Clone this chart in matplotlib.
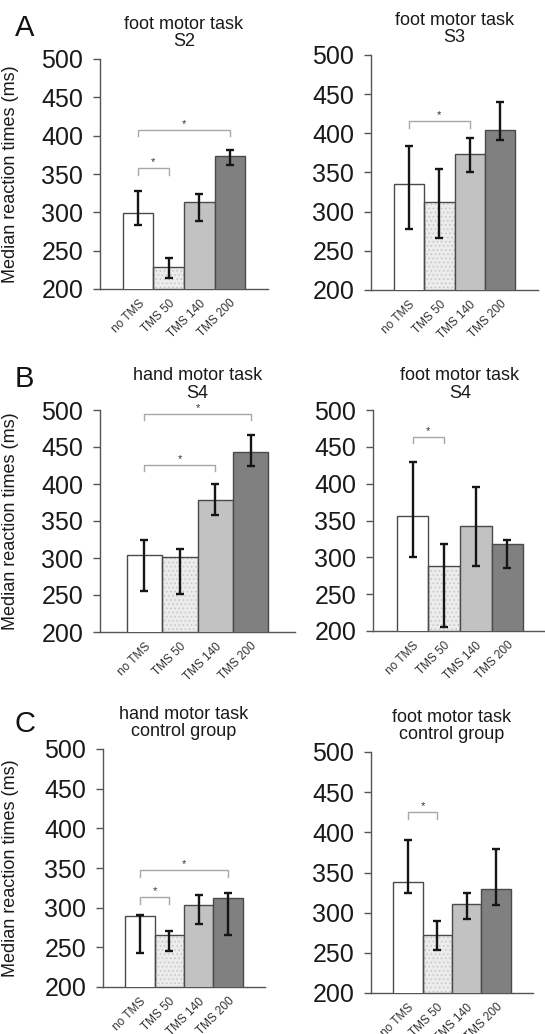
import matplotlib
matplotlib.use('Agg')
import matplotlib.pyplot as plt
import numpy as np

plt.rcParams['font.family'] = ['Liberation Sans', 'DejaVu Sans']
plt.rcParams['hatch.linewidth'] = 0.6

# data (median RT in ms, error bar lower / upper ends)
categories = ['no TMS', 'TMS 50', 'TMS 140', 'TMS 200']

a_s2_med = [299, 229, 314, 373]
a_s2_lo = [283, 214, 289, 362]
a_s2_hi = [328, 241, 324, 381]

a_s3_med = [335, 312, 374, 404]
a_s3_lo = [278, 267, 350, 391]
a_s3_hi = [384, 355, 394, 440]

b_hand_med = [304, 302, 378, 443]
b_hand_lo = [255, 252, 358, 424]
b_hand_hi = [324, 312, 400, 466]

b_foot_med = [356, 288, 342, 318]
b_foot_lo = [300, 205, 288, 286]
b_foot_hi = [429, 318, 396, 324]

c_hand_med = [289, 265, 303, 312]
c_hand_lo = [243, 246, 279, 265]
c_hand_hi = [291, 271, 316, 319]

c_foot_med = [338, 272, 311, 329]
c_foot_lo = [324, 254, 292, 310]
c_foot_hi = [391, 290, 325, 379]

# significant comparisons: (bar i, bar j, bracket height)
a_s2_sig = [(0, 1, 358), (0, 3, 408)]
a_s3_sig = [(0, 2, 416)]
b_hand_sig = [(0, 2, 426), (0, 3, 495)]
b_foot_sig = [(0, 1, 464)]
c_hand_sig = [(0, 1, 314), (0, 3, 348)]
c_foot_sig = [(0, 1, 425)]

bar_colors = ['white', '#ececec', '#c2c2c2', '#808080']
edge = '#4a4a4a'

W, H = 545, 1034
fig = plt.figure(figsize=(W / 100, H / 100), dpi=100)


def px_axes(left, right, top, bottom):
    return fig.add_axes([left / W, 1 - bottom / H, (right - left) / W, (bottom - top) / H])


def panel(rect, title, med, lo, hi, sig, ylabel=False):
    ax = px_axes(*rect)
    x = np.arange(len(categories))
    med = np.array(med)
    for i in range(len(x)):
        if i == 1:
            # speckled fill for TMS 50
            ax.bar(x[i], med[i], width=1.0, color=bar_colors[i],
                   edgecolor='#c4c4c4', linewidth=0, hatch='....', zorder=2)
            ax.bar(x[i], med[i], width=1.0, color='none', edgecolor=edge,
                   linewidth=1.0, zorder=3)
        else:
            ax.bar(x[i], med[i], width=1.0, color=bar_colors[i], edgecolor=edge,
                   linewidth=1.0, zorder=3)
    yerr = [med - np.array(lo), np.array(hi) - med]
    ax.errorbar(x, med, yerr=yerr, fmt='none', ecolor='#151515', elinewidth=1.7,
                capsize=3, capthick=1.7, zorder=4)
    for i, j, lev in sig:
        ax.plot([x[i], x[i], x[j], x[j]], [lev - 9, lev, lev, lev - 9],
                color='#a8a8a8', lw=1.0, zorder=5, clip_on=False)
        ax.text((x[i] + x[j]) / 2, lev + 1, '*', ha='center', va='bottom',
                fontsize=8, color='#333333')
    ax.set_xlim(-1.25, 4.25)
    ax.set_ylim(200, 500)
    ax.set_yticks(np.arange(200, 501, 50))
    ax.set_xticks(x)
    ax.set_xticklabels(categories, rotation=45, ha='right', va='top',
                       rotation_mode='anchor', fontsize=8.5, color='#333333')
    ax.tick_params(axis='x', length=0, pad=6)
    ax.tick_params(axis='y', direction='out', length=5, width=1, color='#555555',
                   labelsize=18, pad=7, labelcolor='#1a1a1a')
    for s in ['top', 'right']:
        ax.spines[s].set_visible(False)
    for s in ['left', 'bottom']:
        ax.spines[s].set_color('#555555')
        ax.spines[s].set_linewidth(1.0)
    ax.set_title(title, fontsize=13, pad=9, color='#1a1a1a', linespacing=1.05)
    if ylabel:
        ax.set_ylabel('Median reaction times (ms)', fontsize=13, color='#1a1a1a')
        ax.yaxis.set_label_coords((19 - rect[0]) / (rect[1] - rect[0]), 0.5)
    return ax


panel((100, 268, 59, 289), 'foot motor task\nS2', a_s2_med, a_s2_lo, a_s2_hi, a_s2_sig, True)
panel((371, 538, 55, 290), 'foot motor task\nS3', a_s3_med, a_s3_lo, a_s3_hi, a_s3_sig)
panel((100, 295, 410, 632), 'hand motor task\nS4', b_hand_med, b_hand_lo, b_hand_hi, b_hand_sig, True)
panel((373, 547, 410, 631), 'foot motor task\nS4', b_foot_med, b_foot_lo, b_foot_hi, b_foot_sig)
panel((103, 265, 749, 987), 'hand motor task\ncontrol group', c_hand_med, c_hand_lo, c_hand_hi, c_hand_sig, True)
panel((371, 533, 752, 993), 'foot motor task\ncontrol group', c_foot_med, c_foot_lo, c_foot_hi, c_foot_sig)

for letter, ypx in [('A', 36), ('B', 387), ('C', 732)]:
    fig.text(15 / W, 1 - ypx / H, letter, fontsize=21, ha='left', va='baseline', color='#111111')

fig.savefig('out.png', dpi=100)
